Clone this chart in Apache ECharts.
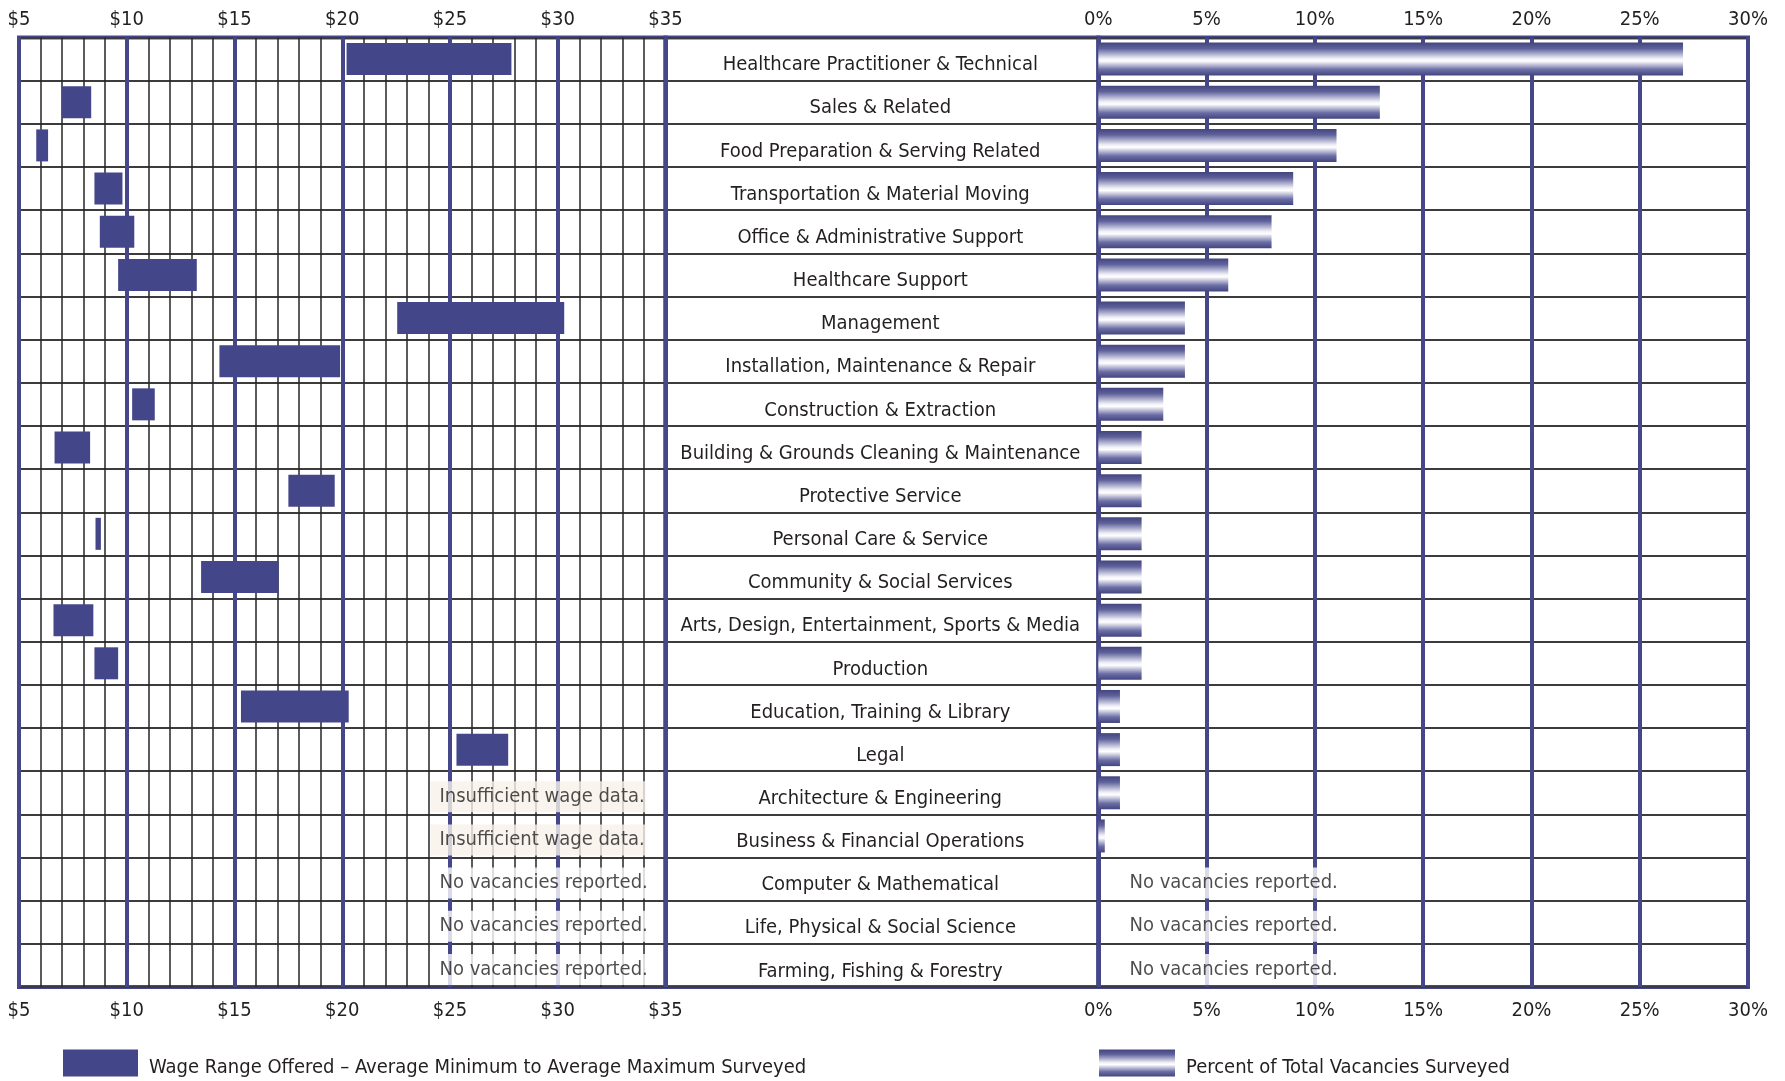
<!DOCTYPE html>
<html>
<head>
<meta charset="utf-8">
<script src="https://cdn.jsdelivr.net/npm/echarts@6/dist/echarts.min.js"></script>
<style>
html,body{margin:0;padding:0;background:#fff;}
#chart{width:1785px;height:1081px;}
</style>
</head>
<body>
<div id="chart"></div>
<script>
// ---------- data ----------
const categories = [
  'Healthcare Practitioner & Technical',
  'Sales & Related',
  'Food Preparation & Serving Related',
  'Transportation & Material Moving',
  'Office & Administrative Support',
  'Healthcare Support',
  'Management',
  'Installation, Maintenance & Repair',
  'Construction & Extraction',
  'Building & Grounds Cleaning & Maintenance',
  'Protective Service',
  'Personal Care & Service',
  'Community & Social Services',
  'Arts, Design, Entertainment, Sports & Media',
  'Production',
  'Education, Training & Library',
  'Legal',
  'Architecture & Engineering',
  'Business & Financial Operations',
  'Computer & Mathematical',
  'Life, Physical & Social Science',
  'Farming, Fishing & Forestry'
];
const wageMin = [20.2, 7.0, 5.8, 8.5, 8.75, 9.6, 22.55, 14.3, 10.25, 6.65, 17.5, 8.55, 13.45, 6.6, 8.5, 15.3, 25.3, null, null, null, null, null];
const wageMax = [27.85, 8.35, 6.35, 9.8, 10.35, 13.25, 30.3, 19.9, 11.3, 8.3, 19.65, 8.8, 17.05, 8.45, 9.6, 20.3, 27.7, null, null, null, null, null];
const pctVacancies = [27, 13, 11, 9, 8, 6, 4, 4, 3, 2, 2, 2, 2, 2, 2, 1, 1, 1, 0.3, null, null, null];
const wageNotes = [null, null, null, null, null, null, null, null, null, null, null, null, null, null, null, null, null,
  'Insufficient wage data.', 'Insufficient wage data.', 'No vacancies reported.', 'No vacancies reported.', 'No vacancies reported.'];
const pctNotes = [null, null, null, null, null, null, null, null, null, null, null, null, null, null, null, null, null,
  null, null, 'No vacancies reported.', 'No vacancies reported.', 'No vacancies reported.'];
const wageTickLabels = ['$5', '$10', '$15', '$20', '$25', '$30', '$35'];
const pctTickLabels = ['0%', '5%', '10%', '15%', '20%', '25%', '30%'];
const WAGE_NAME = 'Wage Range Offered \u2013 Average Minimum to Average Maximum Surveyed';
const PCT_NAME = 'Percent of Total Vacancies Surveyed';

// ---------- styles ----------
const FONT = '"Liberation Sans Narrow", "Arial Narrow", "DejaVu Sans Condensed", sans-serif';
const TEXT = '#231f20';
const NAVY = '#44468a';
const MAJOR = '#45478a';
const ROWLINE = '#3c3c3c';
const MINOR = '#262626';
const FS = 20;

const TOP = 37.5, HEIGHT = 949.5;

const pctGradient = new echarts.graphic.LinearGradient(0, 0, 0, 1, [
  {offset: 0, color: '#43457f'},
  {offset: 0.18, color: '#5f619b'},
  {offset: 0.48, color: '#eeeef7'},
  {offset: 0.56, color: '#ffffff'},
  {offset: 0.82, color: '#6b6da5'},
  {offset: 1, color: '#43457f'}
]);

const wageRange = wageMin.map((v, i) => (v == null || wageMax[i] == null) ? null : +(wageMax[i] - v).toFixed(3));

function noteData(notes, anchor, bgFor) {
  const out = [];
  notes.forEach((t, i) => {
    if (!t) return;
    out.push({
      value: [anchor, i],
      name: t,
      label: {backgroundColor: bgFor(t)}
    });
  });
  return out;
}

const noteLabel = {
  show: true,
  position: 'right',
  distance: 0,
  offset: [0, 4],
  formatter: p => p.name,
  fontFamily: FONT,
  fontSize: FS,
  lineHeight: 22,
  color: TEXT,
  width: 198,
  padding: [5, 8, 4, 9]
};

function valueAxis(grid, min, max, pos, labels, withLines, withMinor) {
  return {
    gridIndex: grid, type: 'value', min: min, max: max, interval: 5, position: pos,
    axisLine: {show: false}, axisTick: {show: false},
    axisLabel: {
      show: true, fontFamily: FONT, fontSize: FS, color: TEXT,
      margin: pos === 'top' ? 8 : 14,
      formatter: v => labels[Math.round((v - min) / 5)]
    },
    splitLine: {show: withLines, lineStyle: {color: MAJOR, width: 4}},
    minorTick: {show: false, splitNumber: 5},
    minorSplitLine: {show: withMinor, lineStyle: {color: MINOR, width: 1.5}}
  };
}

function catAxis(grid, withLabels) {
  return {
    gridIndex: grid, type: 'category', data: categories, inverse: true,
    axisLine: {show: false}, axisTick: {show: false},
    axisLabel: withLabels ? {
      show: true, interval: 0, margin: 218, align: 'center', verticalAlign: 'top', lineHeight: 12,
      fontFamily: FONT, fontSize: FS, color: TEXT
    } : {show: false},
    splitLine: {show: true, interval: 0, lineStyle: {color: ROWLINE, width: 2}}
  };
}

function legendFor(name, left, width) {
  return {
    data: [name], left: left, top: 1048, padding: 0, itemWidth: width, itemHeight: 27,
    icon: 'rect', selectedMode: false,
    formatter: n => '\n' + n,
    textStyle: {fontFamily: FONT, fontSize: FS, color: TEXT, lineHeight: 10, padding: [0, 0, 0, 6]}
  };
}

const chart = echarts.init(document.getElementById('chart'), null, {renderer: 'canvas'});
chart.setOption({
  animation: false,
  backgroundColor: '#ffffff',
  textStyle: {fontFamily: FONT},
  grid: [
    {left: 19, top: TOP, width: 646.5, height: HEIGHT, show: true, borderColor: MAJOR, borderWidth: 4, backgroundColor: 'transparent'},
    {left: 1098.3, top: TOP, width: 649.7, height: HEIGHT, show: true, borderColor: MAJOR, borderWidth: 4, backgroundColor: 'transparent'},
    {left: 665.5, top: TOP, width: 432.8, height: HEIGHT, show: true, borderColor: MAJOR, borderWidth: 4, backgroundColor: 'transparent'}
  ],
  xAxis: [
    valueAxis(0, 5, 35, 'bottom', wageTickLabels, true, true),
    valueAxis(0, 5, 35, 'top', wageTickLabels, false, false),
    valueAxis(1, 0, 30, 'bottom', pctTickLabels, true, false),
    valueAxis(1, 0, 30, 'top', pctTickLabels, false, false),
    {gridIndex: 2, type: 'value', show: false, min: 0, max: 1}
  ],
  yAxis: [catAxis(0, false), catAxis(1, true), catAxis(2, false)],
  legend: [legendFor(WAGE_NAME, 63, 75), legendFor(PCT_NAME, 1099, 76)],
  series: [
    {
      type: 'bar', xAxisIndex: 0, yAxisIndex: 0, stack: 'wage', data: wageMin,
      barWidth: 32, silent: true, itemStyle: {color: 'rgba(0,0,0,0)'}
    },
    {
      name: WAGE_NAME, type: 'bar', xAxisIndex: 0, yAxisIndex: 0, stack: 'wage', data: wageRange,
      barWidth: 32, itemStyle: {color: NAVY}
    },
    {
      name: PCT_NAME, type: 'bar', xAxisIndex: 2, yAxisIndex: 1, data: pctVacancies,
      barWidth: 33, itemStyle: {color: pctGradient}
    },
    {
      type: 'scatter', xAxisIndex: 0, yAxisIndex: 0, symbolSize: 1, z: 5,
      itemStyle: {color: 'rgba(0,0,0,0)'}, silent: true,
      label: noteLabel,
      data: noteData(wageNotes, 24.07, t => t.indexOf('Insufficient') === 0 ? '#f7f3ea' : '#ffffff')
    },
    {
      type: 'scatter', xAxisIndex: 2, yAxisIndex: 1, symbolSize: 1, z: 5,
      itemStyle: {color: 'rgba(0,0,0,0)'}, silent: true,
      label: noteLabel,
      data: noteData(pctNotes, 1.0, t => '#ffffff')
    }
  ]
});
</script>
</body>
</html>
